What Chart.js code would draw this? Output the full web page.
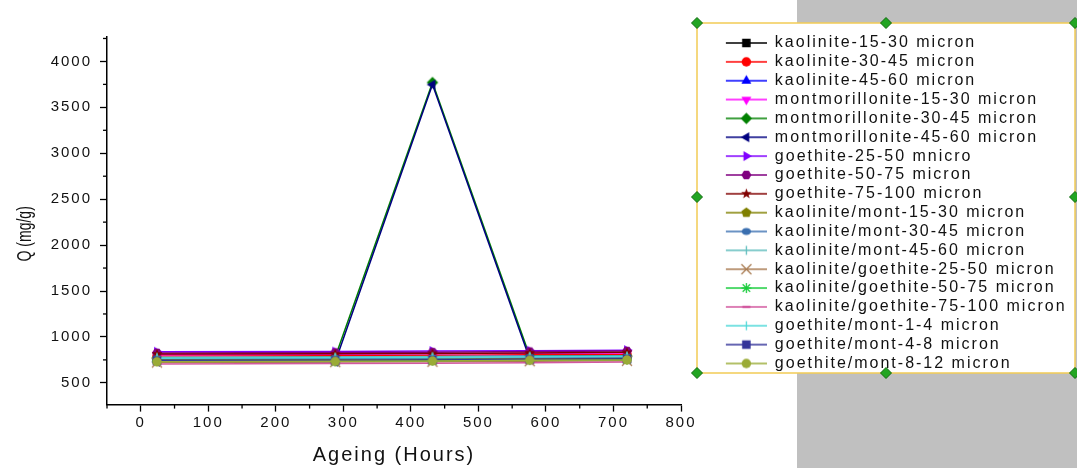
<!DOCTYPE html>
<html>
<head>
<meta charset="utf-8">
<script src="https://cdn.jsdelivr.net/npm/chart.js@4.4.1/dist/chart.umd.min.js"></script>
<style>
  html, body { margin: 0; padding: 0; background: #fff; }
  canvas { display: block; }
</style>
</head>
<body>
<canvas id="qChart" width="1077" height="468"></canvas>
<script>
/* Q (mg/g) against ageing time for every sample */

let hours = [24, 288, 432, 576, 720]

let kaolinite1530 = [745, 740, 750, 758, 762]
let kaolinite3045 = [792, 796, 800, 806, 810]
let kaolinite4560 = [772, 776, 784, 790, 794]
let mont1530 = [806, 810, 816, 822, 826]
let mont3045 = [768, 780, 3770, 792, 790]
let mont4560 = [730, 730, 3748, 760, 758]
let goethite2550 = [838, 840, 846, 850, 856]
let goethite5075 = [826, 830, 834, 840, 846]
let goethite75100 = [814, 816, 820, 826, 832]
let kaoMont1530 = [754, 758, 762, 768, 772]
let kaoMont3045 = [762, 766, 770, 776, 780]
let kaoMont4560 = [778, 782, 786, 790, 792]
let kaoGoe2550 = [722, 726, 730, 736, 740]
let kaoGoe5075 = [738, 734, 742, 750, 754]
let kaoGoe75100 = [706, 710, 714, 720, 726]
let goeMont14 = [768, 772, 776, 782, 786]
let goeMont48 = [742, 746, 750, 756, 760]
let goeMont812 = [730, 734, 738, 746, 750]

let series = [kaolinite1530, kaolinite3045, kaolinite4560, mont1530, mont3045, mont4560,
    goethite2550, goethite5075, goethite75100, kaoMont1530, kaoMont3045, kaoMont4560,
    kaoGoe2550, kaoGoe5075, kaoGoe75100, goeMont14, goeMont48, goeMont812]

let names = [
    "kaolinite-15-30 micron", "kaolinite-30-45 micron", "kaolinite-45-60 micron",
    "montmorillonite-15-30 micron", "montmorillonite-30-45 micron", "montmorillonite-45-60 micron",
    "goethite-25-50 mnicro", "goethite-50-75 micron", "goethite-75-100 micron",
    "kaolinite/mont-15-30 micron", "kaolinite/mont-30-45 micron", "kaolinite/mont-45-60 micron",
    "kaolinite/goethite-25-50 micron", "kaolinite/goethite-50-75 micron", "kaolinite/goethite-75-100 micron",
    "goethite/mont-1-4 micron", "goethite/mont-4-8 micron", "goethite/mont-8-12 micron"
]

let colors = ["#000000", "#FF0000", "#0000FF", "#FF00FF", "#008000", "#000080",
    "#8000FF", "#800080", "#800000", "#808000", "#3A6FB0", "#5FBDBD",
    "#A87A50", "#19CC3C", "#D2579E", "#4FD8D8", "#333399", "#9AAB36"]

let markers = ["square", "circle", "up", "down", "diamond", "left",
    "right", "hexagon", "star", "pentagon", "sphere", "vbar",
    "cross", "asterisk", "hbar", "vbar", "square", "circle"]

let xTicks = [0, 100, 200, 300, 400, 500, 600, 700, 800]
let xMinor = [-50, 50, 150, 250, 350, 450, 550, 650, 750]
let yTicks = [500, 1000, 1500, 2000, 2500, 3000, 3500, 4000]
let yMinor = [750, 1250, 1750, 2250, 2750, 3250, 3750, 4250]

const FONT = "'Liberation Sans', Arial, sans-serif"

/* draws one Origin-like marker on a small canvas */
const drawMarker = (g, kind, x, y, r, col) => {
    g.fillStyle = col
    g.strokeStyle = col
    g.lineWidth = 1.3
    const poly = (n, rot, rad) => {
        g.beginPath()
        for (let k = 0; k < n; k++) {
            let a = rot + k * 2 * Math.PI / n
            g.lineTo(x + rad * Math.cos(a), y + rad * Math.sin(a))
        }
        g.closePath()
        g.fill()
    }
    const seg = (x1, y1, x2, y2) => {
        g.beginPath(); g.moveTo(x1, y1); g.lineTo(x2, y2); g.stroke()
    }
    switch (kind) {
        case "square": g.fillRect(x - r * 0.85, y - r * 0.85, r * 1.7, r * 1.7); break
        case "circle": g.beginPath(); g.arc(x, y, r * 0.95, 0, 2 * Math.PI); g.fill(); break
        case "up": poly(3, -Math.PI / 2, r * 1.15); break
        case "down": poly(3, Math.PI / 2, r * 1.15); break
        case "left": poly(3, Math.PI, r * 1.15); break
        case "right": poly(3, 0, r * 1.15); break
        case "diamond": poly(4, -Math.PI / 2, r * 1.15); break
        case "hexagon": poly(6, 0, r); break
        case "pentagon": poly(5, -Math.PI / 2, r * 1.05); break
        case "sphere": g.beginPath(); g.ellipse(x, y, r * 0.95, r * 0.7, 0, 0, 2 * Math.PI); g.fill(); break
        case "star":
            g.beginPath()
            for (let k = 0; k < 10; k++) {
                let a = -Math.PI / 2 + k * Math.PI / 5
                let rad = k % 2 ? r * 0.45 : r * 1.1
                g.lineTo(x + rad * Math.cos(a), y + rad * Math.sin(a))
            }
            g.closePath(); g.fill(); break
        case "vbar": seg(x, y - r * 0.9, x, y + r * 0.9); break
        case "hbar": g.fillRect(x - r * 0.8, y - 1.2, r * 1.6, 2.4); break
        case "cross": seg(x - r, y - r, x + r, y + r); seg(x - r, y + r, x + r, y - r); break
        case "asterisk":
            seg(x - r, y, x + r, y); seg(x, y - r, x, y + r)
            seg(x - r * 0.75, y - r * 0.75, x + r * 0.75, y + r * 0.75)
            seg(x - r * 0.75, y + r * 0.75, x + r * 0.75, y - r * 0.75)
            break
    }
}

const pointImgs = markers.map((m, i) => {
    let c = document.createElement("canvas")
    c.width = 14; c.height = 14
    drawMarker(c.getContext("2d"), m, 7, 7, 5, colors[i])
    return c
})

// legend sample: blank lead-in, then line with the marker in its middle
const legendImgs = markers.map((m, i) => {
    let c = document.createElement("canvas")
    c.width = 83; c.height = 16
    let g = c.getContext("2d")
    g.strokeStyle = colors[i]
    g.lineWidth = 1.3
    g.beginPath(); g.moveTo(42, 8); g.lineTo(83, 8); g.stroke()
    drawMarker(g, m, 62.5, 8, 5, colors[i])
    return c
})

/* axis titles: the original picture is stretched sideways, copy that on the y title */
const patchTitle = (scale, dy, stretch, spacing) => {
    if (scale._patched) return
    const orig = scale.drawTitle
    scale.drawTitle = function () {
        const ctx = this.ctx
        const cx = 25.4
        ctx.save()
        ctx.letterSpacing = spacing
        ctx.translate(cx, dy)
        ctx.scale(stretch, 1)
        ctx.translate(-cx, 0)
        orig.call(this)
        ctx.restore()
    }
    scale._patched = true
}

/* gray page, legend frame, selection handles, minor ticks, letter spacing */
const framePlugin = {
    id: "frame",
    beforeLayout: (c) => { c.ctx.letterSpacing = "2px" },
    afterLayout: (c) => {
        // let the legend box run to the page edge so the labels are not clipped
        c.legend.right = 1077
        c.legend.width = 1077 - c.legend.left
    },
    beforeDraw: (c) => {
        const ctx = c.ctx
        ctx.letterSpacing = "2px"
        patchTitle(c.scales.y, 13, 1.4, "0px")
        ctx.save()
        ctx.fillStyle = "#C0C0C0"
        ctx.fillRect(797, 0, 280, 468)
        ctx.fillStyle = "#FFFFFF"
        ctx.fillRect(697, 23, 378, 350)
        ctx.strokeStyle = "#F2CB55"
        ctx.lineWidth = 1.5
        ctx.strokeRect(697, 23, 378, 350)
        ctx.restore()
    },
    afterDraw: (c) => {
        const ctx = c.ctx
        const xs = c.scales.x
        const ys = c.scales.y
        ctx.save()
        ctx.strokeStyle = "#000"
        ctx.lineWidth = 1.3
        xMinor.forEach(v => {
            let p = xs.getPixelForValue(v)
            ctx.beginPath(); ctx.moveTo(p, xs.top); ctx.lineTo(p, xs.top + 4); ctx.stroke()
        })
        yMinor.forEach(v => {
            let p = ys.getPixelForValue(v)
            ctx.beginPath(); ctx.moveTo(ys.right, p); ctx.lineTo(ys.right - 4, p); ctx.stroke()
        })
        let handles = [[697, 23], [886, 23], [1075, 23], [697, 197], [1075, 197], [697, 373], [886, 373], [1075, 373]]
        handles.forEach(([hx, hy]) => {
            ctx.beginPath()
            ctx.moveTo(hx, hy - 5.5); ctx.lineTo(hx + 5.5, hy); ctx.lineTo(hx, hy + 5.5); ctx.lineTo(hx - 5.5, hy)
            ctx.closePath()
            ctx.fillStyle = "#22A522"
            ctx.fill()
            ctx.strokeStyle = "#0E6A0E"
            ctx.lineWidth = 1
            ctx.stroke()
        })
        ctx.restore()
    }
}

const datasets = series.map((s, i) => ({
    label: names[i],
    data: hours.map((h, j) => ({ x: h, y: s[j] })),
    borderColor: colors[i],
    backgroundColor: colors[i],
    borderWidth: 1.5,
    pointStyle: pointImgs[i],
    pointRadius: 5,
    pointHoverRadius: 5,
    tension: 0,
    order: series.length - i
}))

const qChart = new Chart(document.getElementById("qChart"), {
    type: "line",
    data: { datasets: datasets },
    options: {
        responsive: false,
        animation: false,
        devicePixelRatio: 1,
        layout: { padding: { top: 32.15, left: 0, right: 196, bottom: 0.4 } },
        scales: {
            x: {
                type: "linear",
                min: -50,
                max: 800,
                afterBuildTicks: (s) => { s.ticks = xTicks.map(v => ({ value: v })) },
                grid: { drawOnChartArea: false, tickLength: 7, tickColor: "#000", tickWidth: 1.3 },
                border: { color: "#000", width: 1.5 },
                ticks: { padding: 2, color: "#111", font: { family: FONT, size: 15 }, maxRotation: 0, autoSkip: false,
                    callback: (v) => String(v) },
                title: { display: true, text: "Ageing (Hours)", color: "#111", font: { family: FONT, size: 20 }, padding: { top: 10, bottom: 0 } }
            },
            y: {
                type: "linear",
                min: 263,
                max: 4266,
                afterBuildTicks: (s) => { s.ticks = yTicks.map(v => ({ value: v })) },
                afterFit: (s) => { s.width = 107 },
                grid: { drawOnChartArea: false, tickLength: 7, tickColor: "#000", tickWidth: 1.3 },
                border: { color: "#000", width: 1.5 },
                ticks: { padding: 8, color: "#111", font: { family: FONT, size: 15 }, autoSkip: false,
                    callback: (v) => String(v) },
                title: { display: true, text: "Q (mg/g)", color: "#111", font: { family: FONT, size: 14 }, padding: { top: 17, bottom: 0 } }
            }
        },
        plugins: {
            title: { display: true, text: "", fullSize: false, font: { size: 1, lineHeight: 1 }, padding: { top: 3.85, bottom: 0 } },
            tooltip: { enabled: false },
            legend: {
                position: "right",
                align: "start",
                maxWidth: 200,
                labels: {
                    usePointStyle: true,
                    pointStyleWidth: 83,
                    padding: 2.85,
                    color: "#111",
                    font: { family: FONT, size: 16 },
                    sort: (a, b) => a.datasetIndex - b.datasetIndex,
                    generateLabels: (c) => Chart.defaults.plugins.legend.labels.generateLabels(c)
                        .map(item => Object.assign(item, { pointStyle: legendImgs[item.datasetIndex] }))
                }
            }
        }
    },
    plugins: [framePlugin]
})
</script>
</body>
</html>
